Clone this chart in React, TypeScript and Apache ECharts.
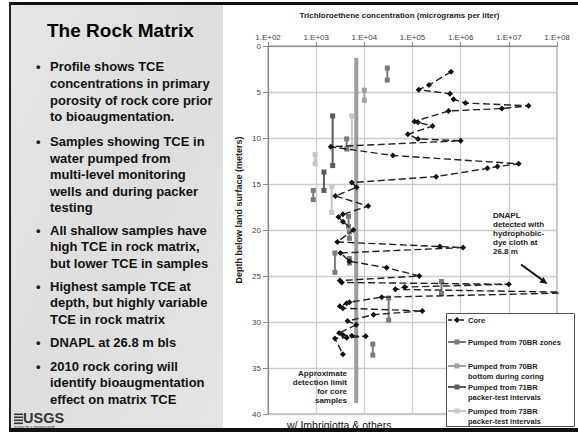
import React, { useEffect, useRef } from "react";
import * as echarts from "echarts";

// Core samples: depth (m) and TCE (ug/L), in profile order
const coreDepth = [2.8, 4.24, 4.75, 5.2, 5.8, 6.2, 6.5, 6.8, 7.06, 8.2, 8.3, 8.7, 9.6, 10.1, 10.3, 10.95, 11.9, 12.8, 13.1, 13.3, 14.2, 14.85, 15.36, 16.3, 17.4, 18.3, 18.6, 19.1, 20.0, 21.3, 21.8, 21.9, 22.5, 23.4, 24.1, 25.0, 25.5, 25.7, 25.9, 26.2, 26.45, 26.8, 27.3, 27.85, 27.95, 28.3, 28.5, 28.8, 29.2, 29.9, 30.3, 31.2, 31.4, 31.5, 31.55, 31.7, 31.8, 33.5];
const coreTce = [630000, 220000, 135000, 600000, 710000, 1260000, 25700000, 7200000, 560000, 110000, 130000, 260000, 80000, 130000, 1000000, 2000, 39000, 16000000, 5800000, 3600000, 310000, 5500, 6900, 2500, 12000, 3600, 2900, 3600, 5900, 2750, 370000, 1120000, 3200, 4900, 29000, 138000, 3100, 3400, 10000000, 69000, 44000, 400000000, 23000, 4900, 4300, 3100, 3600, 160000, 15500, 4500, 6800, 3000, 3600, 5500, 10700, 4300, 2450, 3600];

// Pumped intervals: [TCE, top depth, bottom depth]
const zones70BR = [[30000, 2.4, 3.7], [4300, 10.1, 11.2], [870, 15.7, 16.7], [4700, 18.5, 19.6], [4900, 20.2, 20.9], [4900, 23.1, 23.6], [2450, 22.5, 24.6], [400000, 25.6, 26.9], [32000, 27.4, 29.8], [15000, 32.4, 33.6]];
const bottom70BR = [[10000, 4.8, 5.9]];
const packer71BR = [[2200, 7.6, 13.0], [1450, 13.7, 15.7]];
const packer73BR = [[5500, 7.6, 10.9], [950, 11.8, 12.8], [2100, 15.3, 18.1]];

const detectionLimit = 6800;
const detectionDepths = [1.3, 38.8];

const xTicksMin = 100;
const xTicksMax = 100000000;
const depthMin = 0;
const depthMax = 40;

const bullets = [
  ["Profile shows TCE", "concentrations in primary", "porosity of rock core prior", "to bioaugmentation."],
  ["Samples showing TCE in", "water pumped from", "multi-level monitoring", "wells and during packer", "testing"],
  ["All shallow samples have", "high TCE in rock matrix,", "but lower TCE in samples"],
  ["Highest sample TCE at", "depth, but highly variable", "TCE in rock matrix"],
  ["DNAPL at 26.8 m bls"],
  ["2010 rock coring will", "identify bioaugmentation", "effect on matrix TCE"],
];
const bulletY = [
  [66, 83, 100, 116],
  [141, 158, 174, 191, 207],
  [230, 246.7, 263.3],
  [286, 302.5, 319],
  [342.5],
  [366, 382.5, 399],
];

const FONT = '"Liberation Sans", Arial, sans-serif';

const C_CORE = "#111111";
const C_ZONES = "#7a7a7a";
const C_BOTTOM = "#a0a0a0";
const C_71 = "#5a5a5a";
const C_73 = "#c6c6c6";

function txt(text: string, x: number, y: number, size: number, opts: any = {}) {
  const align = opts.align || "left";
  return {
    type: "text",
    x,
    y,
    z: opts.z ?? 100,
    rotation: opts.rotation || 0,
    style: {
      text,
      fill: opts.color || "#111",
      font: `${opts.weight || "bold"} ${size}px ${FONT}`,
      textAlign: align,
      textVerticalAlign: "middle",
      align,
      verticalAlign: "middle",
    },
  };
}

export default function App() {
  const ref = useRef<HTMLDivElement>(null);
  useEffect(() => {
    if (!ref.current) return;
    const chart = echarts.init(ref.current, undefined, { renderer: "svg" });

    const intervalSeries = (arr: number[][], color: string) =>
      arr.map((iv) => ({
        type: "line",
        data: [
          [iv[0], iv[1]],
          [iv[0], iv[2]],
        ],
        symbol: "rect",
        symbolSize: 5,
        itemStyle: { color },
        lineStyle: { color, width: 2 },
        z: 3,
        silent: true,
      }));

    const graphic: any[] = [];
    // left panel & frame
    graphic.push({
      type: "rect",
      shape: { x: 11, y: 5, width: 212, height: 423 },
      style: {
        fill: new echarts.graphic.LinearGradient(0, 0, 1, 1, [
          { offset: 0, color: "#e6e6e6" },
          { offset: 0.5, color: "#dedede" },
          { offset: 1, color: "#e4e4e4" },
        ]),
      },
      z: 1,
    });
    graphic.push({ type: "rect", shape: { x: 9, y: 2, width: 569, height: 3 }, style: { fill: "#111" }, z: 1 });
    graphic.push({ type: "rect", shape: { x: 9, y: 2, width: 2, height: 430 }, style: { fill: "#222" }, z: 1 });
    graphic.push({ type: "rect", shape: { x: 9, y: 428, width: 569, height: 4 }, style: { fill: "#111" }, z: 1 });

    graphic.push(txt("The Rock Matrix", 47, 30.5, 19, { color: "#000" }));
    bullets.forEach((para, i) => {
      graphic.push(txt("•", 36, bulletY[i][0], 13, { color: "#222" }));
      para.forEach((line, j) => graphic.push(txt(line, 50, bulletY[i][j], 13, { color: "#111" })));
    });

    // USGS logo
    [413.5, 416.5, 419.5, 422.5].forEach((yy) =>
      graphic.push({ type: "rect", shape: { x: 14, y: yy, width: 9, height: 1.6 }, style: { fill: "#333" }, z: 100 })
    );
    graphic.push(txt("USGS", 23, 418, 14.5, { color: "#333" }));
    graphic.push(txt("science for a changing world", 14, 426.8, 3.2, { color: "#333", weight: "normal" }));

    // chart texts
    graphic.push(txt("Trichloroethene concentration (micrograms per liter)", 399.5, 15, 8, { align: "center", color: "#222" }));
    graphic.push(txt("Depth below land surface (meters)", 239, 210, 9, { align: "center", color: "#222", rotation: Math.PI / 2 }));
    ["Approximate", "detection limit", "for core", "samples"].forEach((l, i) =>
      graphic.push(txt(l, 347, [373, 382, 391, 400][i], 8, { align: "right", color: "#222" }))
    );
    ["DNAPL", "detected with", "hydrophobic-", "dye cloth at", "26.8 m"].forEach((l, i) =>
      graphic.push(txt(l, 493, [215, 224, 233.5, 242.7, 251.7][i], 8, { color: "#222" }))
    );
    graphic.push({ type: "line", shape: { x1: 521, y1: 264.5, x2: 542, y2: 279.7 }, style: { stroke: "#111", lineWidth: 2 }, z: 100 });
    graphic.push({ type: "polygon", shape: { points: [[547.5, 284], [539.4, 282.5], [543.4, 277]] }, style: { fill: "#111" }, z: 100 });
    graphic.push(txt("w/ Imbrigiotta & others", 287, 425, 10.5, { color: "#111", weight: "normal" }));

    // legend
    graphic.push({ type: "rect", shape: { x: 446.5, y: 313.5, width: 128, height: 113 }, style: { fill: "#fff", stroke: "#555", lineWidth: 1 }, z: 90 });
    const legendItems = [
      { lines: ["Core"], y: 320, color: C_CORE, sym: "diamond" },
      { lines: ["Pumped from 70BR zones"], y: 342, color: C_ZONES, sym: "rect" },
      { lines: ["Pumped from 70BR", "bottom during coring"], y: 366, color: C_BOTTOM, sym: "rect" },
      { lines: ["Pumped from 71BR", "packer-test intervals"], y: 387, color: C_71, sym: "rect" },
      { lines: ["Pumped from 73BR", "packer-test intervals"], y: 411, color: C_73, sym: "rect" },
    ];
    legendItems.forEach((it) => {
      graphic.push({
        type: "line",
        shape: { x1: 448, y1: it.y, x2: 466, y2: it.y },
        style: { stroke: it.color, lineWidth: it.sym === "diamond" ? 1.3 : 2, lineDash: it.sym === "diamond" ? [4, 2] : null },
        z: 100,
      });
      if (it.sym === "diamond") {
        graphic.push({ type: "polygon", shape: { points: [[457, it.y - 3], [460, it.y], [457, it.y + 3], [454, it.y]] }, style: { fill: it.color }, z: 101 });
      } else {
        graphic.push({ type: "rect", shape: { x: 454.5, y: it.y - 2.5, width: 5, height: 5 }, style: { fill: it.color }, z: 101 });
      }
      it.lines.forEach((l, j) => graphic.push(txt(l, 468, it.y + j * 10.5, 7.5, { color: "#222" })));
    });

    const pad2 = (n: number) => (n < 10 ? "0" + n : "" + n);

    chart.setOption({
      animation: false,
      backgroundColor: "#ffffff",
      grid: { left: 268, right: 21, top: 46, bottom: 18, show: true, borderColor: "#8a8a8a", borderWidth: 1, backgroundColor: "transparent" },
      xAxis: {
        type: "log",
        logBase: 10,
        position: "top",
        min: xTicksMin,
        max: xTicksMax,
        interval: 1,
        axisLine: { show: true, lineStyle: { color: "#8a8a8a" } },
        axisTick: { show: true, length: 4, inside: false, lineStyle: { color: "#8a8a8a" } },
        axisLabel: {
          margin: 5,
          fontSize: 8,
          color: "#444",
          fontFamily: FONT,
          formatter: (v: number) => "1.E+" + pad2(Math.round(Math.log10(v))),
        },
        splitLine: { show: true, lineStyle: { color: "#cccccc", width: 1.3 } },
        minorTick: { show: false },
      },
      yAxis: {
        type: "value",
        inverse: true,
        min: depthMin,
        max: depthMax,
        interval: 5,
        axisLine: { show: true, lineStyle: { color: "#8a8a8a" } },
        axisTick: { show: true, length: 5, lineStyle: { color: "#8a8a8a" } },
        axisLabel: { margin: 7, fontSize: 8, color: "#444", fontFamily: FONT, padding: [2, 0, 0, 0] },
        splitLine: { show: true, lineStyle: { color: "#cccccc", width: 1.3 } },
      },
      graphic,
      series: [
        {
          type: "line",
          data: detectionDepths.map((d) => [detectionLimit, d]),
          symbol: "none",
          lineStyle: { color: "#9c9c9c", width: 4 },
          z: 1,
          silent: true,
        },
        ...intervalSeries(zones70BR, C_ZONES),
        ...intervalSeries(bottom70BR, C_BOTTOM),
        ...intervalSeries(packer71BR, C_71),
        ...intervalSeries(packer73BR, C_73),
        {
          type: "line",
          data: coreDepth.map((d, i) => [coreTce[i], d]),
          symbol: "diamond",
          symbolSize: 6,
          clip: true,
          itemStyle: { color: C_CORE },
          lineStyle: { color: "#222", width: 1.4, type: [7, 3.5] },
          z: 4,
          silent: true,
        },
      ],
    });
    return () => chart.dispose();
  }, []);
  return <div ref={ref} style={{ position: "fixed", left: 0, top: 0, width: 578, height: 432, background: "#fff" }} />;
}
